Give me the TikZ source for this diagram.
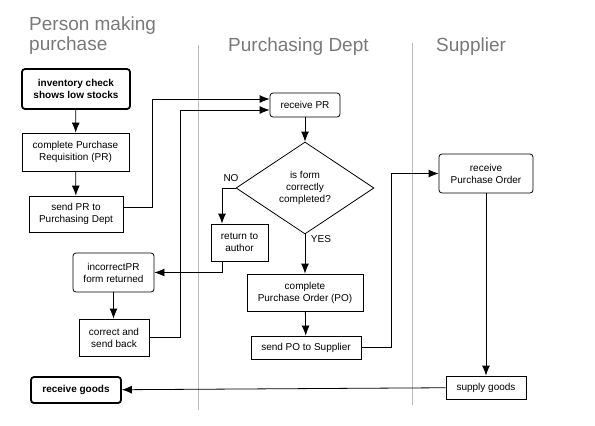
\documentclass[tikz,border=0pt]{standalone}
\usepackage{fontspec}
\setmainfont{Liberation Sans}
\usepackage{tikz}
\usetikzlibrary{arrows.meta}
\usetikzlibrary{shapes.geometric}
\tikzset{
    box/.style={draw, black, line width=0.8pt, inner sep=0pt, align=center, font=\fontsize{10}{12}\selectfont},
    rbox/.style={box, rounded corners=3pt},
    bbox/.style={rbox, line width=1.8pt, font=\fontsize{10}{12}\selectfont\bfseries},
    head/.style={gray!95!black, anchor=base west, align=left, inner sep=0pt, font=\fontsize{19}{20}\selectfont},
    lbl/.style={inner sep=0pt, font=\fontsize{10}{12}\selectfont},
    lane/.style={gray!55, line width=0.9pt},
    arr/.style={line width=0.8pt, -{Latex[length=10pt,width=8pt]}}
}
\begin{document}
\begin{tikzpicture}[x=1pt, y=-1pt]
        \useasboundingbox (0,0) rectangle (595,426);
        %headings
        \node[head] (hp) at (29,50) {Person making\\purchase};
        \node[head] (hd) at (228,51) {Purchasing Dept};
        \node[head] (hs) at (436,51) {Supplier};
        %lanes
        \coordinate (l1t) at (198,45);
        \coordinate (l1b) at (198,410);
        \coordinate (l2t) at (412,43);
        \coordinate (l2b) at (412,405);
        \draw[lane] (l1t) -- (l1b);
        \draw[lane] (l2t) -- (l2b);
        %person making purchase
        \node[bbox, minimum width=108, minimum height=40] (inv) at (76,89) {inventory check\\shows low stocks};
        \node[box, minimum width=107, minimum height=38] (cpr) at (75.5,152) {complete Purchase\\Requisition (PR)};
        \node[box, minimum width=94, minimum height=36] (spr) at (76,214) {send PR to\\Purchasing Dept};
        \node[rbox, minimum width=81, minimum height=39] (inc) at (113.5,272.5) {incorrectPR\\form returned};
        \node[box, minimum width=70, minimum height=37] (csb) at (114,337.5) {correct and\\send back};
        \node[bbox, minimum width=90, minimum height=26] (rg) at (76,390) {receive goods};
        %purchasing dept
        \node[rbox, minimum width=70, minimum height=24] (rpr) at (305,105) {receive PR};
        \node[box, diamond, aspect=1.5, minimum width=138, minimum height=92] (chk) at (305,188) {is form\\correctly\\completed?};
        \node[box, minimum width=57, minimum height=37] (rtn) at (239.5,242.5) {return to\\author};
        \node[box, minimum width=116, minimum height=37] (cpo) at (305,292.5) {complete\\Purchase Order (PO)};
        \node[box, minimum width=110, minimum height=23] (spo) at (306,347.5) {send PO to Supplier};
        %supplier
        \node[rbox, minimum width=94, minimum height=39] (rpo) at (486,173.5) {receive\\Purchase Order};
        \node[box, minimum width=80, minimum height=23] (sup) at (486,387.5) {supply goods};
        %labels
        \node[lbl] (no) at (231,178) {NO};
        \node[lbl] (yes) at (321,239) {YES};
        %array
        \draw[arr] (inv) -- (cpr);
        \draw[arr] (cpr) -- (spr);
        \draw[arr] ([yshift=7pt]spr.east) -- ++(29,0) |- ([yshift=6pt]rpr.west);
        \draw[arr] (csb.east) -- ++(31,0) |- ([yshift=-5pt]rpr.west);
        \draw[arr] (rpr) -- (chk);
        \draw[arr] (chk.west) -| ([xshift=-17.5pt]rtn.north);
        \draw[arr] ([xshift=-17.5pt]rtn.south) |- (inc.east);
        \draw[arr] (inc.south) -- (inc.south |- csb.north);
        \draw[arr] (chk) -- (cpo);
        \draw[arr] (cpo) -- (spo);
        \draw[arr] (spo.east) -- ++(30,0) |- (rpo.west);
        \draw[arr] (rpo) -- (sup);
        \draw[arr] (sup) -- (rg);
    \end{tikzpicture}
\end{document}
